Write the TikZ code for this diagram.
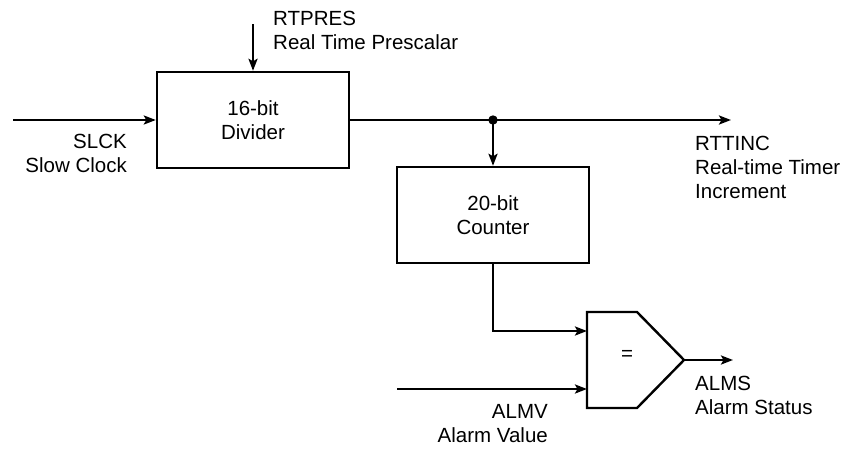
\documentclass[tikz,border=0pt]{standalone}
\usepackage{fontspec}
\setmainfont{Liberation Sans}
\usetikzlibrary{arrows.meta}
\begin{document}
\begin{tikzpicture}[x=1pt,y=-1pt,
  wire/.style={line width=2.4pt},
  arr/.style={wire,-{Stealth[length=12pt,width=9pt,inset=2.5pt]}},
  blk/.style={draw,line width=2.4pt,minimum width=192pt,minimum height=96pt,align=center,font=\fontsize{20.5}{24}\selectfont,inner sep=0pt},
  lbl/.style={font=\fontsize{20.5}{24}\selectfont,inner sep=0pt}]
\useasboundingbox (0,0) rectangle (853,450);
\node[blk] (div) at (253,120) {16-bit\\Divider};
\node[blk] (cnt) at (493,215) {20-bit\\Counter};
\coordinate (slckin) at (13,120);
\coordinate (rtpin) at (253,24);
\coordinate (junc) at (493,120);
\coordinate (rttout) at (731,120);
\coordinate (cmpA) at (587,331);
\coordinate (cmpB) at (587,389);
\coordinate (almvin) at (397,389);
\coordinate (tip) at (684,360);
\coordinate (almsout) at (733,360);
% comparator
\draw[wire,line join=miter] (587,312) -- (637,312) -- (tip) -- (637,408) -- (587,408) -- cycle;
\node[lbl] (eq) at (627,355) {=};
% connectors
\draw[arr] (slckin) -- (div.west);
\draw[arr] (rtpin) -- (div.north);
\draw[arr] (div.east) -- (rttout);
\draw[arr] (junc) -- (cnt.north);
\fill (junc) circle (4.7pt);
\draw[arr] (cnt.south) |- (cmpA);
\draw[arr] (almvin) -- (cmpB);
\draw[arr] (tip) -- (almsout);
% labels
\node[lbl,anchor=east,align=right] (slck) at (127,153) {SLCK\\Slow Clock};
\node[lbl,anchor=west,align=left] (rtpres) at (273,30) {RTPRES\\Real Time Prescalar};
\node[lbl,anchor=west,align=left] (rttinc) at (695,167) {RTTINC\\Real-time Timer\\Increment};
\node[lbl,anchor=east,align=right] (almv) at (548,424) {ALMV\\Alarm Value};
\node[lbl,anchor=west,align=left] (alms) at (695,395) {ALMS\\Alarm Status};
\end{tikzpicture}
\end{document}
